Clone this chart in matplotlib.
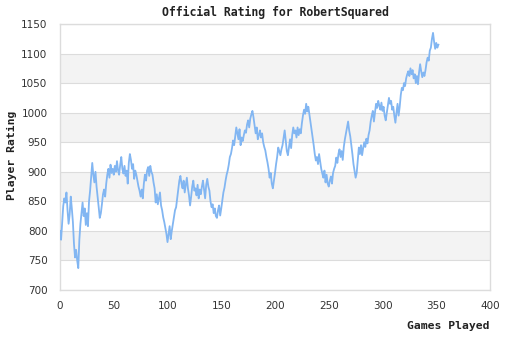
import matplotlib
matplotlib.use("Agg")
import matplotlib.pyplot as plt
import numpy as np

# rating after each game, game 0 .. 352
ratings = [
    800, 785, 815, 842, 855, 848, 865, 835, 812, 828,
    858, 838, 815, 778, 755, 768, 750, 737, 785, 812,
    830, 848, 825, 838, 810, 830, 808, 850, 868, 892,
    915, 895, 882, 900, 875, 858, 840, 822, 830, 845,
    862, 870, 858, 880, 895, 905, 890, 912, 898, 905,
    895, 910, 900, 918, 902, 895, 912, 925, 905, 897,
    910, 893, 902, 880, 915, 930, 920, 905, 913, 888,
    902, 895, 885, 875, 868, 858, 870, 855, 880, 895,
    885, 902, 908, 893, 910, 900, 895, 882, 872, 848,
    862, 845, 855, 865, 843, 835, 823, 815, 805, 795,
    781, 795, 808, 786, 800, 812, 825, 835, 840, 855,
    870, 885, 893, 880, 872, 885, 865, 878, 890, 872,
    860, 843, 858, 875, 885, 868, 872, 860, 878, 855,
    870, 862, 875, 885, 870, 855, 878, 888, 875, 868,
    850, 840, 845, 830, 838, 825, 822, 835, 843, 826,
    838, 852, 865, 873, 885, 895, 902, 912, 925, 930,
    940, 953, 945, 960, 975, 965, 955, 972, 945, 958,
    952, 962, 970, 966, 980, 987, 975, 990, 997, 1003,
    992, 978, 965, 975, 955, 962, 970, 958, 965, 950,
    942, 936, 925, 916, 905, 890, 898, 880, 872, 885,
    898, 913, 925, 941, 935, 928, 938, 945, 958, 970,
    952, 935, 928, 942, 955, 940, 962, 975, 965, 970,
    958, 975, 962, 972, 965, 982, 995, 1005, 998, 1015,
    1002, 1010, 997, 985, 970, 958, 945, 930, 919, 925,
    913, 930, 918, 905, 897, 890, 902, 882, 895, 880,
    875, 885, 892, 880, 898, 905, 910, 924, 915, 930,
    938, 925, 935, 920, 942, 955, 965, 975, 985, 970,
    960, 945, 930, 913, 902, 890, 898, 920, 941, 930,
    945, 928, 940, 950, 942, 956, 948, 962, 970, 985,
    995, 1003, 985, 1000, 1015, 1008, 1020, 1012, 1005, 1017,
    1003, 1010, 995, 987, 1000, 1012, 1025, 1015, 1020, 1005,
    1010, 995, 983, 1000, 1015, 995, 1010, 1030, 1042, 1038,
    1050, 1045, 1058, 1065, 1070, 1062, 1075, 1065, 1072, 1058,
    1065, 1050, 1062, 1048, 1068, 1082, 1070, 1060, 1068, 1062,
    1072, 1085, 1093, 1088, 1105, 1110, 1125, 1135, 1120, 1108,
    1118, 1110, 1115,
]
games = np.arange(len(ratings))

y_ticks = [700, 750, 800, 850, 900, 950, 1000, 1050, 1100, 1150]
x_ticks = [0, 50, 100, 150, 200, 250, 300, 350, 400]

mono = "DejaVu Sans Mono"
grid_col = "#dcdcdc"

fig = plt.figure(figsize=(5.1, 3.4), dpi=100)
ax = fig.add_axes([60 / 510, 1 - 290 / 340, 430 / 510, 266 / 340])

# alternating grey bands behind the line
for i in range(len(y_ticks) - 1):
    if i % 2 == 1:
        ax.axhspan(y_ticks[i], y_ticks[i + 1], color="#f3f3f3", lw=0, zorder=0)
for t in y_ticks:
    ax.axhline(t, color=grid_col, lw=0.8, zorder=1)

ax.plot(games, ratings, color="#82b6f2", lw=1.3, zorder=3)

ax.set_xlim(0, 400)
ax.set_ylim(700, 1150)
ax.set_xticks(x_ticks)
ax.set_yticks(y_ticks)
ax.tick_params(length=0, labelsize=7.5, colors="#333333")
ax.tick_params(axis="y", pad=9)
ax.tick_params(axis="x", pad=8)
for s in ax.spines.values():
    s.set_color(grid_col)
    s.set_linewidth(1)

ax.set_title("Official Rating for RobertSquared", fontsize=8.3, fontweight="bold",
             family=mono, color="#222222", pad=6)
fig.text(12 / 510, 1 - 155 / 340, "Player Rating", rotation=90, ha="center", va="center",
         fontsize=8.2, fontweight="bold", family=mono, color="#222222")
fig.text(490 / 510, 1 - 326 / 340, "Games Played", ha="right", va="center",
         fontsize=8.2, fontweight="bold", family=mono, color="#222222")

fig.savefig("out.png", dpi=100)
